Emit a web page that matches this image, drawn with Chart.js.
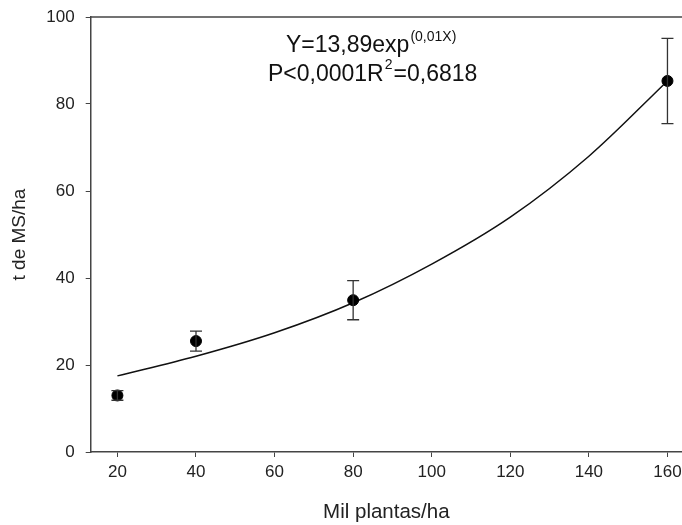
<!DOCTYPE html>
<html>
<head>
<meta charset="utf-8">
<script src="https://cdn.jsdelivr.net/npm/chart.js@4"></script>
<style>
  html, body { margin: 0; padding: 0; background: #fff; }
  #wrap { width: 682px; height: 525px; }
</style>
</head>
<body>
<div id="wrap"><canvas id="chart" width="682" height="525"></canvas></div>
<script>
// observed means with standard error
const plantDensity = [20, 40, 80, 160];
const dryMatter = [13.0, 25.5, 34.9, 85.3];
const dryMatterErr = [1.1, 2.3, 4.5, 9.8];

// fitted curve
const fitX = [20, 40, 60, 80, 100, 120, 140, 160];
const fitY = [17.5, 22.0, 27.4, 34.3, 43.2, 54.0, 68.0, 85.3];

const xTicks = [20, 40, 60, 80, 100, 120, 140, 160];
const yTicks = [0, 20, 40, 60, 80, 100];

const FONT = "'Liberation Sans', Arial, sans-serif";

// error bars for the points dataset
const errorBars = {
    id: 'errorBars',
    afterDatasetsDraw(chart) {
        const ctx = chart.ctx;
        const xs = chart.scales.x, ys = chart.scales.y;
        ctx.save();
        ctx.strokeStyle = '#333';
        ctx.lineWidth = 1.3;
        plantDensity.forEach((x, i) => {
            const px = xs.getPixelForValue(x);
            const top = ys.getPixelForValue(dryMatter[i] + dryMatterErr[i]);
            const bot = ys.getPixelForValue(dryMatter[i] - dryMatterErr[i]);
            ctx.beginPath();
            ctx.moveTo(px, top); ctx.lineTo(px, bot);
            ctx.moveTo(px - 6, top); ctx.lineTo(px + 6, top);
            ctx.moveTo(px - 6, bot); ctx.lineTo(px + 6, bot);
            ctx.stroke();
        });
        ctx.restore();
    }
};

// top frame line + equation text
const frameAndText = {
    id: 'frameAndText',
    afterDraw(chart) {
        const ctx = chart.ctx;
        const a = chart.chartArea;
        ctx.save();
        ctx.strokeStyle = '#444';
        ctx.lineWidth = 1.5;
        ctx.beginPath();
        ctx.moveTo(a.left, a.top);
        ctx.lineTo(a.right, a.top);
        ctx.stroke();

        ctx.fillStyle = '#111';
        ctx.textBaseline = 'alphabetic';
        ctx.textAlign = 'left';
        const big = '23px ' + FONT, small = '14px ' + FONT;

        let x = 286;
        ctx.font = big;
        ctx.fillText('Y=13,89exp', x, 52);
        x += ctx.measureText('Y=13,89exp').width + 1;
        ctx.font = small;
        ctx.fillText('(0,01X)', x, 41);

        x = 268;
        ctx.font = big;
        ctx.fillText('P<0,0001R', x, 81);
        x += ctx.measureText('P<0,0001R').width + 1;
        ctx.font = small;
        ctx.fillText('2', x, 69);
        x += ctx.measureText('2').width + 1;
        ctx.font = big;
        ctx.fillText('=0,6818', x, 81);
        ctx.restore();
    }
};

new Chart(document.getElementById('chart'), {
    type: 'scatter',
    data: {
        datasets: [
            {
                label: 'Ajuste',
                type: 'line',
                data: fitX.map((x, i) => ({ x: x, y: fitY[i] })),
                borderColor: '#111',
                borderWidth: 1.5,
                pointRadius: 0,
                fill: false,
                cubicInterpolationMode: 'monotone',
                order: 2
            },
            {
                label: 't de MS/ha',
                data: plantDensity.map((x, i) => ({ x: x, y: dryMatter[i] })),
                backgroundColor: '#000',
                borderColor: '#000',
                pointRadius: 5.5,
                order: 1
            }
        ]
    },
    options: {
        responsive: false,
        animation: false,
        layout: { autoPadding: false, padding: { top: 17, right: 0, left: 0, bottom: 0 } },
        plugins: {
            legend: { display: false },
            tooltip: { enabled: false }
        },
        scales: {
            x: {
                type: 'linear',
                min: 13.2,
                max: 163.7,
                afterBuildTicks: s => { s.ticks = xTicks.map(v => ({ value: v })); },
                afterFit: s => { s.height = 73; s.paddingRight = 0; s.paddingLeft = 0; },
                border: { display: true, color: '#444', width: 1.5 },
                grid: { drawOnChartArea: false, drawTicks: true, tickLength: 5, color: '#444' },
                ticks: { color: '#222', font: { family: FONT, size: 17 }, padding: 5, maxRotation: 0 },
                title: {
                    display: true, text: 'Mil plantas/ha', color: '#222',
                    font: { family: FONT, size: 20.5 }, padding: { top: 0, bottom: 0 }
                }
            },
            y: {
                min: 0,
                max: 100,
                afterBuildTicks: s => { s.ticks = yTicks.map(v => ({ value: v })); },
                afterFit: s => { s.width = 90.7; s.paddingTop = 0; s.paddingBottom = 0; },
                border: { display: true, color: '#444', width: 1.5 },
                grid: { drawOnChartArea: false, drawTicks: true, tickLength: 5, color: '#444' },
                ticks: { color: '#222', font: { family: FONT, size: 17 }, padding: 11 },
                title: {
                    display: true, text: 't de MS/ha', color: '#222',
                    font: { family: FONT, size: 19 }, padding: { top: 8, bottom: 0 }
                }
            }
        }
    },
    plugins: [errorBars, frameAndText]
});
</script>
</body>
</html>
